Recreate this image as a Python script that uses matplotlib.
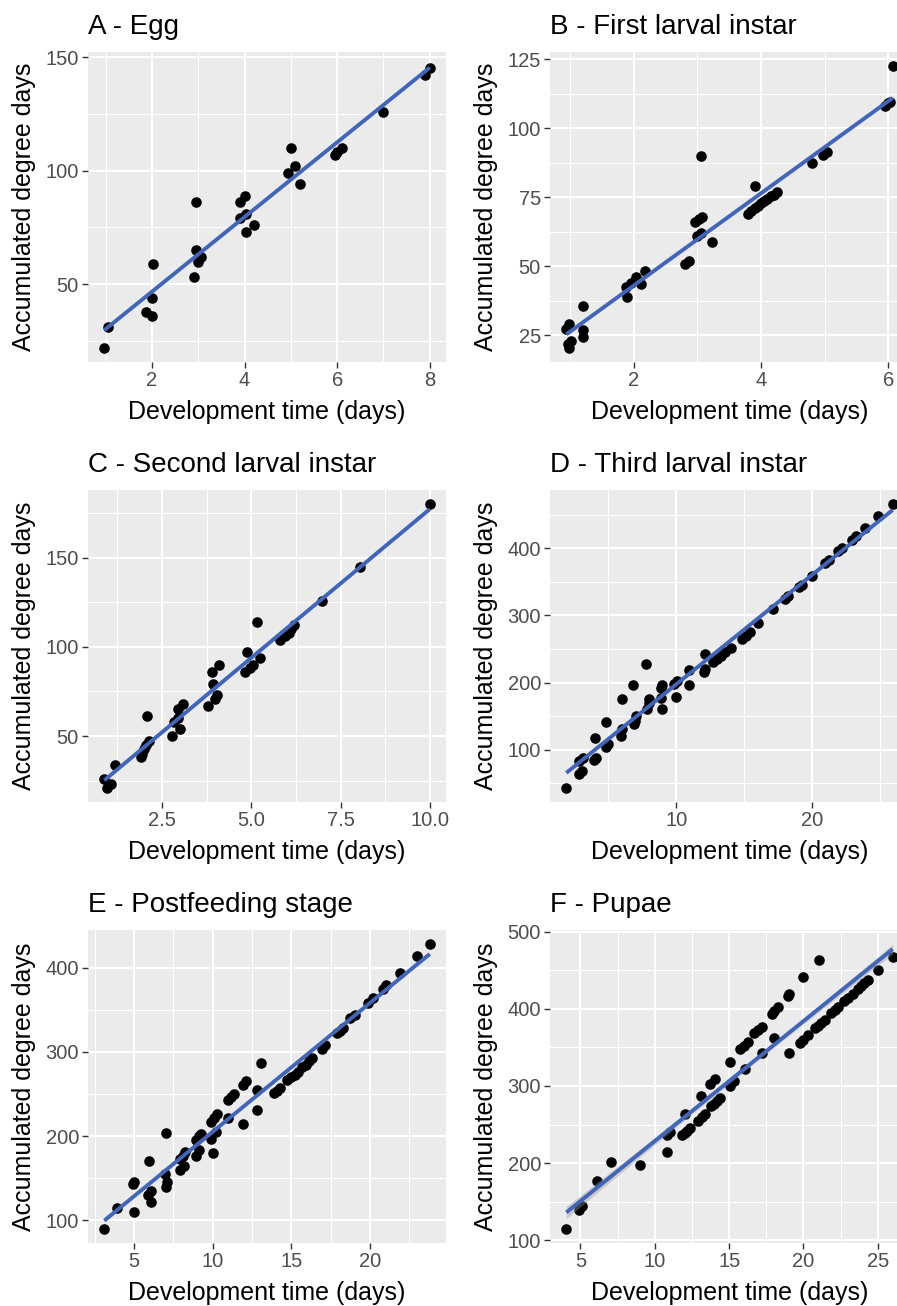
import numpy as np
import matplotlib
matplotlib.use("Agg")
import matplotlib.pyplot as plt
from matplotlib.ticker import MultipleLocator, FormatStrFormatter

plt.rcParams['font.family'] = ['Liberation Sans', 'DejaVu Sans']

# ---------------- data ----------------
titles = ["A - Egg", "B - First larval instar", "C - Second larval instar",
          "D - Third larval instar", "E - Postfeeding stage", "F - Pupae"]

ax_x = [0.97, 1.06, 1.87, 2.0, 2.0, 2.03, 2.9, 2.95, 3.0, 3.07, 2.95, 3.9, 4.04, 4.04,
        4.2, 3.9, 4.0, 4.93, 5.0, 5.09, 5.2, 5.95, 6.0, 6.1, 7.0, 7.9, 8.0]
ax_y = [22, 31, 38, 36, 44, 59, 53, 65, 60, 62, 86, 79, 81, 73,
        76, 86, 89, 99, 110, 102, 94, 107, 108, 110, 126, 142, 145]

bx = [0.94, 0.98, 0.97, 1.01, 0.98, 1.2, 1.2, 1.2, 1.9, 1.88, 1.96, 2.04, 2.12, 2.17,
      2.8, 2.87, 3.0, 3.05, 2.97, 3.02, 3.07, 3.23, 3.05, 3.8, 3.85, 3.9, 3.95, 4.0,
      4.05, 4.1, 4.15, 4.2, 4.25, 3.9, 4.8, 4.97, 5.03, 5.95, 6.0, 6.03, 6.07]
by = [27.5, 29, 22, 23, 20.5, 27, 24.5, 35.5, 39, 42.5, 44, 46, 43.5, 48.5,
      51, 52, 61, 62, 66, 67, 68, 59, 90, 69, 70, 71, 72, 73,
      73.5, 74.5, 75.5, 76, 77, 79, 87.5, 90.5, 91.5, 108, 109, 109.5, 122.5]

cx = [0.88, 0.97, 1.06, 1.18, 1.9, 1.95, 2.0, 2.05, 2.13, 2.08, 2.78, 3.0, 2.82, 2.96,
      2.96, 3.1, 3.78, 3.98, 4.03, 3.93, 3.9, 4.1, 4.81, 4.95, 5.04, 4.89, 5.25, 5.17,
      5.81, 5.95, 6.05, 6.12, 6.2, 6.99, 8.04, 10.0]
cy = [26, 21, 23, 34, 38, 40, 43, 45, 47, 61, 50, 54, 58, 60,
      65, 68, 67, 71, 73, 79, 86, 90, 86, 88, 90, 97, 94, 114,
      104, 106, 108, 110, 112, 126, 145, 180]

dx = [1.9, 2.83, 3.08, 2.85, 3.1, 3.9, 4.1, 4.0, 4.85, 5.0, 4.84, 5.9, 6.02, 6.0, 6.8,
      6.85, 6.95, 7.05, 7.73, 7.85, 7.95, 8.0, 8.95, 8.83, 8.95, 8.85, 9.93, 10.05, 9.8,
      10.95, 10.95, 12.0, 12.1, 12.1, 12.7, 13.0, 13.3, 13.6, 14.0, 14.8, 15.1, 15.4,
      16.0, 17.1, 18.0, 18.2, 19.0, 19.2, 20.0, 20.9, 21.2, 21.9, 22.2, 22.9, 23.2,
      23.9, 24.85, 25.9]
dy = [43, 63, 68, 83, 88, 84, 88, 117, 104, 108, 141, 120, 130, 175, 197,
      138, 143, 150, 227, 160, 170, 176, 161, 177, 197, 192, 178, 202, 198,
      197, 219, 215, 220, 242, 230, 235, 240, 246, 252, 265, 270, 275,
      289, 309, 324, 329, 342, 346, 359, 379, 383, 396, 400, 413, 419,
      431, 449, 466]

ex = [3.1, 3.93, 5.0, 4.95, 5.0, 6.05, 5.9, 6.1, 5.95, 7.0, 7.1, 6.95, 7.05, 7.9, 8.2,
      7.9, 8.1, 8.25, 8.95, 9.15, 8.95, 9.1, 9.25, 10.0, 9.9, 10.2, 9.9, 10.1, 10.3,
      11.0, 10.95, 11.15, 11.35, 11.9, 11.9, 12.1, 12.8, 12.8, 13.05, 13.9, 14.1, 14.3,
      14.75, 15.0, 15.2, 15.4, 15.7, 15.9, 16.1, 16.3, 16.95, 17.15, 17.9, 18.1, 18.3,
      18.75, 19.05, 19.9, 20.2, 20.85, 21.05, 21.9, 23.0, 23.8]
ey = [90, 115, 110, 143, 145, 122, 130, 135, 171, 140, 145, 155, 204, 160, 165,
      173, 177, 181, 177, 183, 196, 200, 203, 180, 197, 205, 217, 221, 226,
      221, 243, 246, 250, 214, 261, 266, 231, 255, 287, 251, 254, 257,
      267, 270, 273, 276, 282, 285, 289, 293, 304, 308, 322, 325, 329,
      340, 344, 358, 364, 375, 379, 394, 414, 428]

fx = [4.05, 4.9, 5.1, 6.1, 7.05, 9.0, 10.8, 10.85, 11.05, 11.8, 12.0, 12.2, 12.4, 12.0,
      12.9, 13.15, 13.4, 13.1, 13.8, 14.0, 14.2, 14.4, 13.7, 14.05, 15.05, 15.3, 15.05,
      15.7, 16.0, 16.3, 16.05, 16.7, 16.95, 17.2, 17.2, 17.85, 18.05, 18.3, 18.05, 19.05,
      18.95, 19.05, 19.75, 20.0, 20.3, 20.0, 20.75, 21.0, 21.2, 21.45, 21.05, 21.85,
      22.1, 22.3, 22.75, 23.0, 23.3, 23.65, 23.9, 24.1, 24.35, 25.0, 26.0]
fy = [115, 139, 145, 177, 202, 197, 215, 236, 241, 236, 239, 242, 246, 264,
      255, 260, 264, 287, 274, 277, 281, 285, 302, 309, 300, 306, 331,
      348, 352, 357, 322, 369, 373, 376, 343, 393, 397, 402, 362, 419,
      417, 343, 356, 360, 366, 441, 375, 378, 381, 385, 463, 395,
      398, 402, 410, 414, 419, 426, 430, 433, 437, 450, 467]

# estimated number of overlapping observations behind each plotted dot
# (individuals sharing identical values); only affects the width of the CI ribbon
replicates = [100, 100, 100, 25, 25, 4]

datasets = [(ax_x, ax_y), (bx, by), (cx, cy), (dx, dy), (ex, ey), (fx, fy)]
# axis break steps (major x, major y)
steps = [(2, 50), (2, 25), (2.5, 50), (10, 100), (5, 100), (5, 100)]
xfmt = ['%d', '%d', '%.1f', '%d', '%d', '%d']

# ---------------- layout ----------------
W, H = 897, 1306
fig = plt.figure(figsize=(W / 100, H / 100), dpi=100)
cols = [(88, 358), (550, 359)]
rows = [(52, 362), (490, 802), (930, 1243)]

BLUE = '#4165B8'


def tq975(df):
    z = 1.959964
    return z + (z**3 + z) / (4 * df) + (5 * z**5 + 16 * z**3 + 3 * z) / (96 * df**2)


for i, (x, y) in enumerate(datasets):
    r, c = divmod(i, 2)
    left, width = cols[c]
    top, bottom = rows[r]
    ax = fig.add_axes([left / W, 1 - bottom / H, width / W, (bottom - top) / H])
    ax.set_facecolor('#EBEBEB')
    for s in ax.spines.values():
        s.set_visible(False)

    x = np.asarray(x, float)
    y = np.asarray(y, float)
    k = replicates[i]
    n = len(x) * k
    b1, b0 = np.polyfit(x, y, 1)
    xs = np.linspace(x.min(), x.max(), 80)
    fit = b0 + b1 * xs
    resid = y - (b0 + b1 * x)
    s_err = np.sqrt(k * np.sum(resid**2) / (n - 2))
    sxx = k * np.sum((x - x.mean())**2)
    se = s_err * np.sqrt(1 / n + (xs - x.mean())**2 / sxx)
    t = tq975(n - 2)

    ax.scatter(x, y, s=58, color='black', linewidths=0, zorder=3)
    ax.fill_between(xs, fit - t * se, fit + t * se, color='#999999', alpha=0.4,
                    linewidth=0, zorder=4)
    ax.plot(xs, fit, color=BLUE, lw=2.8, zorder=5, solid_capstyle='butt')
    ax.margins(0.05)

    mx, my = steps[i]
    ax.xaxis.set_major_locator(MultipleLocator(mx))
    ax.xaxis.set_minor_locator(MultipleLocator(mx / 2))
    ax.yaxis.set_major_locator(MultipleLocator(my))
    ax.yaxis.set_minor_locator(MultipleLocator(my / 2))
    ax.xaxis.set_major_formatter(FormatStrFormatter(xfmt[i]))
    ax.yaxis.set_major_formatter(FormatStrFormatter('%d'))

    ax.grid(which='major', color='white', lw=1.5)
    ax.grid(which='minor', color='white', lw=0.75)
    ax.set_axisbelow(True)
    ax.tick_params(which='major', length=4, width=1.0, color='#333333',
                   labelsize=14.5, labelcolor='#4D4D4D', pad=2.5)
    ax.tick_params(which='minor', length=0)

    ax.set_xlabel('Development time (days)', fontsize=18, labelpad=7)
    ax.set_ylabel('Accumulated degree days', fontsize=18, labelpad=7)
    ax.set_title(titles[i], loc='left', fontsize=20, pad=13)

fig.savefig('out.png', dpi=100)
